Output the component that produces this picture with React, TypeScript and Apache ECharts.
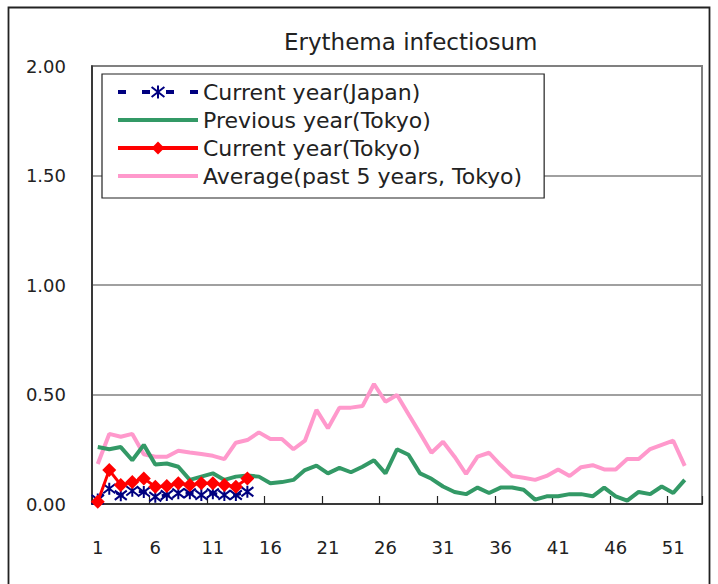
import React, { useEffect, useRef } from "react";
import * as echarts from "echarts";

const weeks = [
  "1", "2", "3", "4", "5", "6", "7", "8", "9", "10",
  "11", "12", "13", "14", "15", "16", "17", "18", "19", "20",
  "21", "22", "23", "24", "25", "26", "27", "28", "29", "30",
  "31", "32", "33", "34", "35", "36", "37", "38", "39", "40",
  "41", "42", "43", "44", "45", "46", "47", "48", "49", "50",
  "51", "52", "53",
];

const yTicks = [0, 0.5, 1, 1.5, 2];

const japanCurrent = [0.02, 0.07, 0.04, 0.06, 0.055, 0.033, 0.041, 0.049, 0.049, 0.041, 0.049, 0.041, 0.041, 0.056];

const tokyoPrevious = [
  0.26, 0.25, 0.26, 0.2, 0.27, 0.18, 0.185, 0.17, 0.11, 0.125,
  0.14, 0.11, 0.125, 0.13, 0.125, 0.095, 0.1, 0.11, 0.155, 0.175,
  0.14, 0.165, 0.145, 0.17, 0.2, 0.14, 0.25, 0.225, 0.14, 0.115,
  0.08, 0.055, 0.045, 0.075, 0.05, 0.075, 0.075, 0.065, 0.02, 0.035,
  0.035, 0.045, 0.045, 0.035, 0.075, 0.035, 0.015, 0.055, 0.045, 0.08,
  0.05, 0.11,
];

const tokyoCurrent = [0.01, 0.155, 0.087, 0.1, 0.117, 0.079, 0.082, 0.095, 0.087, 0.095, 0.095, 0.087, 0.079, 0.117];

const tokyoAverage = [
  0.183, 0.32, 0.307, 0.32, 0.227, 0.216, 0.216, 0.243, 0.235, 0.228,
  0.22, 0.205, 0.28, 0.292, 0.327, 0.297, 0.297, 0.25, 0.289, 0.43,
  0.346, 0.44, 0.44, 0.447, 0.548, 0.467, 0.498, 0.41, 0.323, 0.234,
  0.284, 0.216, 0.137, 0.216, 0.234, 0.178, 0.128, 0.12, 0.11, 0.128,
  0.158, 0.128, 0.168, 0.177, 0.158, 0.158, 0.205, 0.205, 0.251, 0.27,
  0.289, 0.174,
];

const FONT = "DejaVu Sans";
const starSymbol = "path://M0 0L10 10M10 0L0 10M5 -1.5L5 11.5";

export default function App() {
  const ref = useRef<HTMLDivElement>(null);
  useEffect(() => {
    const chart = echarts.init(ref.current!, null, { renderer: "svg" });
    chart.setOption({
      animation: false,
      backgroundColor: "#ffffff",
      textStyle: { fontFamily: FONT },
      title: {
        text: "Erythema infectiosum",
        left: 279,
        top: 25,
        textStyle: { fontFamily: FONT, fontSize: 23, fontWeight: "normal", color: "#222" },
      },
      graphic: [
        {
          type: "rect",
          shape: { x: 8.5, y: 7.5, width: 701, height: 620 },
          style: { fill: "none", stroke: "#222", lineWidth: 1.8 },
          silent: true,
        },
      ],
      legend: {
        orient: "vertical",
        left: 102,
        top: 74,
        padding: [6, 22, 10, 14],
        itemGap: 4,
        itemWidth: 80,
        itemHeight: 16,
        backgroundColor: "#ffffff",
        borderColor: "#222",
        borderWidth: 1.2,
        selectedMode: false,
        textStyle: { fontFamily: FONT, fontSize: 22, color: "#222", lineHeight: 24 },
        data: [
          { name: "Current year(Japan)", lineStyle: { width: 4 } },
          { name: "Previous year(Tokyo)", lineStyle: { width: 4 }, itemStyle: { opacity: 0 } },
          { name: "Current year(Tokyo)", lineStyle: { width: 4 } },
          { name: "Average(past 5 years, Tokyo)", lineStyle: { width: 4 }, itemStyle: { opacity: 0 } },
        ],
      },
      grid: {
        left: 92,
        top: 66,
        right: 16,
        bottom: 80,
        show: true,
        borderColor: "#808080",
        borderWidth: 2,
        backgroundColor: "transparent",
      },
      xAxis: {
        type: "category",
        data: weeks,
        boundaryGap: true,
        axisLine: { lineStyle: { color: "#222", width: 1.5 } },
        axisTick: { show: true, inside: true, length: 8, interval: 4, lineStyle: { color: "#222", width: 1.2 } },
        axisLabel: { interval: 4, margin: 34, fontSize: 18, color: "#222", fontFamily: FONT },
        splitLine: { show: false },
      },
      yAxis: {
        type: "value",
        min: yTicks[0],
        max: yTicks[yTicks.length - 1],
        interval: 0.5,
        axisLine: { show: true, lineStyle: { color: "#222", width: 1.5 } },
        axisTick: { show: false },
        axisLabel: {
          margin: 26,
          fontSize: 18,
          color: "#222",
          fontFamily: FONT,
          formatter: (v: number) => v.toFixed(2),
        },
        splitLine: { show: true, lineStyle: { color: "#808080", width: 1.6 } },
      },
      series: [
        {
          name: "Average(past 5 years, Tokyo)",
          type: "line",
          data: tokyoAverage,
          symbol: "none",
          lineStyle: { color: "#FF99CC", width: 4 },
          itemStyle: { color: "#FF99CC" },
          z: 2,
        },
        {
          name: "Previous year(Tokyo)",
          type: "line",
          data: tokyoPrevious,
          symbol: "none",
          lineStyle: { color: "#339966", width: 4 },
          itemStyle: { color: "#339966" },
          z: 3,
        },
        {
          name: "Current year(Japan)",
          type: "line",
          data: japanCurrent,
          symbol: starSymbol,
          symbolSize: 12,
          showAllSymbol: true,
          lineStyle: { color: "#000080", width: 3, type: [8, 16] },
          itemStyle: { color: "#000080", borderColor: "#000080", borderWidth: 2 },
          z: 4,
        },
        {
          name: "Current year(Tokyo)",
          type: "line",
          data: tokyoCurrent,
          symbol: "diamond",
          symbolSize: 14,
          showAllSymbol: true,
          lineStyle: { color: "#FF0000", width: 3 },
          itemStyle: { color: "#FF0000" },
          z: 5,
        },
      ],
    });
    return () => chart.dispose();
  }, []);
  return (
    <div
      ref={ref}
      style={{ position: "absolute", left: 0, top: 0, width: 718, height: 584, background: "#fff" }}
    />
  );
}
